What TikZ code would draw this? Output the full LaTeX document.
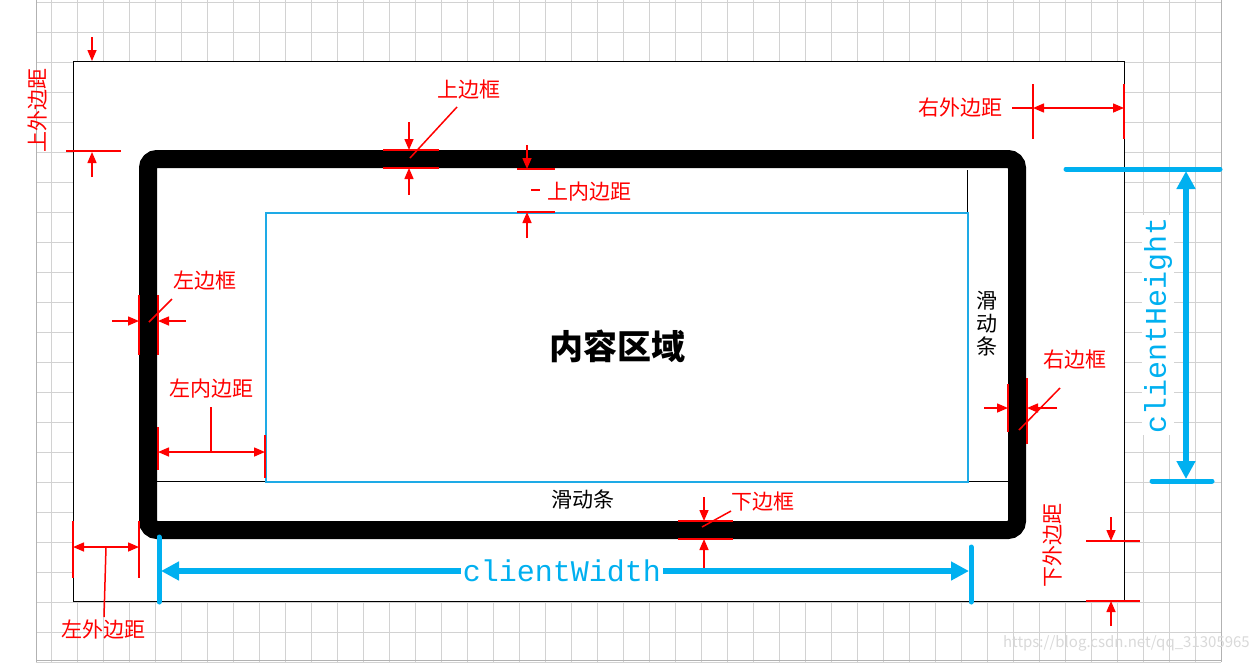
\documentclass[tikz,border=0pt]{standalone}
\usepackage{fontspec}
\setmainfont{Noto Sans CJK SC}
\newfontfamily\cmono{Liberation Mono}
\usetikzlibrary{arrows.meta}
\definecolor{rd}{RGB}{255,0,0}
\definecolor{bl}{RGB}{0,176,240}
\definecolor{lb}{RGB}{30,170,230}
\begin{document}
\begin{tikzpicture}[x=1pt,y=-1pt,
  rl/.style={rd,line width=1.5pt},
  ra/.style={rd,line width=1.5pt,-{Triangle[length=11pt,width=9pt]}},
  rda/.style={rd,line width=1.5pt,{Triangle[length=11pt,width=9pt]}-{Triangle[length=11pt,width=9pt]}},
  lab/.style={text=rd,font=\fontsize{21}{21}\selectfont,inner sep=1pt},
  bt/.style={bl,line width=5pt,line cap=round},
  ba/.style={bl,line width=6pt,{Triangle[length=18pt,width=18pt]}-{Triangle[length=18pt,width=18pt]}}]
\useasboundingbox (0,0) rectangle (1259,662);
\fill[white] (0,0) rectangle (1259,662);
% grid
\foreach \x in {51,77,...,1221} \draw[gray!35,line width=0.8pt] (\x,0) -- (\x,662);
\foreach \y in {2,32,...,662} \draw[gray!35,line width=0.8pt] (36,\y) -- (1221,\y);
\draw[gray!60,line width=1pt] (36,0) -- (36,662) (1221,0) -- (1221,662) (36,660) -- (1221,660);
% outer box
\node[draw=black,fill=white,line width=1pt,minimum width=1051pt,minimum height=540pt,anchor=north west,inner sep=0] (outer) at (73,61) {};
% scrollbars
\coordinate (sbA) at (967,170);
\coordinate (sbB) at (967,481);
\coordinate (sbC) at (157,481);
\coordinate (sbD) at (1008,481);
\draw[line width=1pt] (sbA) -- (sbB) (sbC) -- (sbD);
% content
\node[draw=lb,line width=1.5pt,minimum width=702pt,minimum height=269pt,anchor=north west,inner sep=0] (content) at (265,212) {};
\node[font=\fontsize{34}{34}\selectfont\bfseries] (ct) at (617,346) {内容区域};
\node[font=\fontsize{21}{21}\selectfont,align=center] (sv) at (987,324) {滑\\[2pt]动\\[2pt]条};
\node[font=\fontsize{21}{21}\selectfont] (sh) at (583,500) {滑动条};
% border
\draw[line width=18pt,rounded corners=9pt] (148,159) rectangle (1017,530);
% 上外边距
\node[lab,rotate=90] (l1) at (38,110) {上外边距};
\coordinate (a1) at (92,37); \coordinate (a1e) at (92,61);
\coordinate (b1) at (92,177); \coordinate (b1e) at (92,152);
\draw[ra] (a1) -- (a1e); \draw[ra] (b1) -- (b1e);
\draw[rl] (66,151) -- (121,151);
% 上边框
\node[lab] (l2) at (469,90) {上边框};
\draw[rl] (383,150) -- (439,150) (383,168) -- (439,168);
\draw[ra] (409,122) -- (409,150); \draw[ra] (409,195) -- (409,168);
\draw[rl] (457,107) -- (410,158);
% 上内边距
\node[lab] (l3) at (589,192) {上内边距};
\draw[rl] (531,190) -- (540,190);
\draw[rl] (517,169) -- (555,169) (517,212) -- (555,212);
\draw[ra] (527,145) -- (527,169); \draw[ra] (527,238) -- (527,212);
% 左边框
\node[lab] (l4) at (205,281) {左边框};
\draw[rl] (139,295) -- (139,355) (158,295) -- (158,355);
\draw[ra] (112,321) -- (139,321); \draw[ra] (186,321) -- (158,321);
\draw[rl] (172,299) -- (149,322);
% 左内边距
\node[lab] (l5) at (211,389) {左内边距};
\draw[rl] (158,427) -- (158,470) (265,435) -- (265,478);
\draw[rda] (158,452) -- (265,452);
\draw[rl] (211,407) -- (211,452);
% 左外边距
\node[lab] (l6) at (103,630) {左外边距};
\draw[rl] (73,521) -- (73,578) (139,521) -- (139,578);
\draw[rda] (73,547) -- (139,547);
\draw[rl] (106,547) -- (104,617);
% 右外边距
\node[lab] (l7) at (960,108) {右外边距};
\draw[rl] (1012,108) -- (1033,108);
\draw[rl] (1033,84) -- (1033,139) (1124,84) -- (1124,139);
\draw[rda] (1033,108) -- (1124,108);
% 右边框
\node[lab] (l8) at (1075,360) {右边框};
\draw[rl] (1008,384) -- (1008,432) (1027,378) -- (1027,444);
\draw[ra] (984,408) -- (1008,408); \draw[ra] (1057,408) -- (1027,408);
\draw[rl] (1060,388) -- (1019,430);
% 下边框
\node[lab] (l9) at (763,502) {下边框};
\draw[rl] (678,521) -- (733,521) (678,539) -- (733,539);
\draw[ra] (704,497) -- (704,521); \draw[ra] (704,569) -- (704,539);
\draw[rl] (731,511) -- (702,527);
% 下外边距
\node[lab,rotate=90] (l10) at (1053,545) {下外边距};
\draw[rl] (1086,541) -- (1140,541) (1086,601) -- (1140,601);
\draw[ra] (1111,517) -- (1111,541); \draw[ra] (1111,626) -- (1111,601);
% clientWidth
\draw[bt] (159,537) -- (159,602); \draw[bt] (971,547) -- (971,602);
\draw[ba] (161,571) -- (969,571);
\node[fill=white,text=bl,font=\cmono\fontsize{30}{30}\selectfont,inner sep=2pt] (cw) at (562,571) {clientWidth};
% clientHeight
\draw[bt] (1066,169) -- (1220,169); \draw[bt] (1152,481) -- (1212,481);
\draw[ba] (1186,171) -- (1186,479);
\node[fill=white,text=bl,font=\cmono\fontsize{30}{30}\selectfont,inner sep=2pt,rotate=90] (chh) at (1158,325) {clientHeight};
% watermark
\node[text=gray!30,font=\fontsize{15}{15}\selectfont,anchor=east,inner sep=0] (wm) at (1250,643) {https://blog.csdn.net/qq\_31305965};
\end{tikzpicture}
\end{document}
